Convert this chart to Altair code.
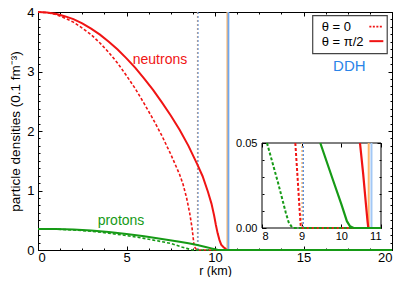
import altair as alt
import pandas as pd

FONT = "Liberation Sans"
RED = "#f01414"
GREEN = "#169a16"
BLUE_TXT = "#2a84e8"
BLUE_DASH = "#3f80e0"
BLUE_SOLID = "#6fa8f0"
ORANGE = "#ffb466"

# ---- data ----
r_n_solid = [0, 0.5, 1, 1.5, 2, 2.5, 3, 3.5, 4, 4.5, 5, 5.5, 6, 6.5, 7, 7.5, 8, 8.5, 9, 9.3, 9.6,
             9.8, 9.95, 10.05, 10.15, 10.25, 10.35, 10.47, 10.55, 10.62, 10.66, 10.68, 11, 20]
d_n_solid = [4.00, 3.99, 3.97, 3.93, 3.88, 3.81, 3.72, 3.62, 3.50, 3.37, 3.22, 3.06, 2.88, 2.69, 2.48,
             2.26, 2.02, 1.75, 1.44, 1.24, 0.98, 0.78, 0.58, 0.42, 0.28, 0.17, 0.09, 0.05, 0.032,
             0.014, 0.004, 0.0, 0.0, 0.0]

r_n_dash = [0, 0.5, 1, 1.5, 2, 2.5, 3, 3.5, 4, 4.5, 5, 5.5, 6, 6.5, 7, 7.5, 8, 8.2, 8.4, 8.57, 8.7,
            8.77, 8.81, 8.84, 8.91, 8.95, 8.98, 11, 20]
d_n_dash = [4.00, 3.99, 3.96, 3.90, 3.83, 3.73, 3.62, 3.48, 3.32, 3.14, 2.93, 2.71, 2.46, 2.20, 1.92,
            1.61, 1.27, 1.10, 0.87, 0.62, 0.38, 0.20, 0.09, 0.05, 0.025, 0.01, 0.0, 0.0, 0.0]

r_p_solid = [0, 1, 2, 3, 4, 5, 6, 7, 8, 8.5, 9, 9.47, 9.8, 10.0, 10.14, 10.22, 10.31, 11, 20]
d_p_solid = [0.355, 0.352, 0.343, 0.327, 0.303, 0.270, 0.230, 0.185, 0.138, 0.112, 0.083, 0.05,
             0.0275, 0.014, 0.004, 0.001, 0.0, 0.0, 0.0]

r_p_dash = [0, 1, 2, 3, 4, 5, 6, 7, 7.5, 8.0, 8.126, 8.4, 8.6, 8.67, 8.74, 8.8, 11, 20]
d_p_dash = [0.355, 0.350, 0.337, 0.315, 0.283, 0.243, 0.195, 0.140, 0.110, 0.062, 0.05, 0.027,
            0.009, 0.0035, 0.001, 0.0, 0.0, 0.0]

# DDH surface radii (theta = 0, theta = pi/2)
rule_theta = ["0", "pi/2"]
rule_r_blue = [9.04, 10.76]
rule_r_orange = [9.01, 10.69]

x_major = [0, 5, 10, 15, 20]
x_minor = [i * 1.25 for i in range(17)]
y_major = [0, 1, 2, 3, 4]
y_minor = [i * 0.125 for i in range(33)]
ix_major = [8, 9, 10, 11]
iy_major = [0, 0.05]
iy_minor = [i * 0.01 for i in range(6)]

W, H = 354, 238
IN_L, IN_R, IN_T, IN_B = 224, 343, 131, 216


def df(r, d):
    return pd.DataFrame({"r": r, "d": d})


main_x = alt.Scale(domain=[0, 20], nice=False, zero=False)
main_y = alt.Scale(domain=[0, 4], nice=False, zero=False)
ins_x = alt.Scale(domain=[8, 11], range=[IN_L, IN_R], nice=False, zero=False)
ins_y = alt.Scale(domain=[0, 0.05], range=[IN_B, IN_T], nice=False, zero=False)


def tick_axis(orient, offset, values, size):
    return alt.Axis(orient=orient, offset=offset, values=values, tickSize=size, tickColor="black",
                    tickWidth=1, labels=False, domain=False, grid=False, title=None)


# main axes
mx_lab = alt.Axis(orient="bottom", values=x_major, tickSize=0, domain=False, grid=False,
                  labelPadding=1, labelFont=FONT, labelFontSize=13, labelColor="black",
                  title="r (km)", titleFont=FONT, titleFontSize=12.5, titleFontWeight="normal",
                  titleColor="black", titleY=20.5, titleBaseline="middle")
my_lab = alt.Axis(orient="left", values=y_major, tickSize=0, domain=False, grid=False,
                  labelPadding=4, labelFont=FONT, labelFontSize=13, labelColor="black",
                  title="particle densities (0.1 fm⁻³)", titleFont=FONT, titleFontSize=13.5,
                  titleFontWeight="normal", titleColor="black", titleX=-23, titleBaseline="middle")
mx_bmaj = tick_axis("top", -H, x_major, 4)
mx_bmin = tick_axis("top", -H, x_minor, 2)
mx_tmaj = tick_axis("bottom", -H, x_major, 4)
mx_tmin = tick_axis("bottom", -H, x_minor, 2)
my_lmaj = tick_axis("right", -W, y_major, 4)
my_lmin = tick_axis("right", -W, y_minor, 2)
my_rmaj = tick_axis("left", -W, y_major, 4)
my_rmin = tick_axis("left", -W, y_minor, 2)

# inset axes
ix_lab = alt.Axis(orient="bottom", offset=IN_B - H, values=ix_major, tickSize=0, domain=False,
                  grid=False, labelPadding=2, labelFont=FONT, labelFontSize=11, labelColor="black",
                  title=None)
iy_lab = alt.Axis(orient="left", offset=-IN_L, values=iy_major, format=".2f", tickSize=0,
                  domain=False, grid=False, labelPadding=5, labelFont=FONT, labelFontSize=11,
                  labelColor="black", title=None)
ix_bmaj = tick_axis("top", -IN_B, ix_major, 4)
ix_tmaj = tick_axis("bottom", IN_T - H, ix_major, 4)
iy_lmaj = tick_axis("right", IN_L - W, iy_major, 4)
iy_lmin = tick_axis("right", IN_L - W, iy_minor, 2)
iy_rmaj = tick_axis("left", -IN_R, iy_major, 4)
iy_rmin = tick_axis("left", -IN_R, iy_minor, 2)

INSET_FILTER = "datum.r >= 8 && datum.r <= 11 && datum.d <= 0.0501"


def line(data, color, width, xax, yax, dashed=False, inset=False):
    ch = alt.Chart(data)
    if inset:
        ch = ch.transform_filter(INSET_FILTER)
    if dashed:
        mk = ch.mark_line(color=color, strokeWidth=width, strokeDash=[3, 2])
    else:
        mk = ch.mark_line(color=color, strokeWidth=width)
    return mk.encode(
        x=alt.X("r:Q", scale=ins_x if inset else main_x, axis=xax),
        y=alt.Y("d:Q", scale=ins_y if inset else main_y, axis=yax),
    )


rules_blue = pd.DataFrame({"theta": rule_theta, "r": rule_r_blue})
rules_orange = pd.DataFrame({"theta": rule_theta, "r": rule_r_orange})


def rules(data, theta, color, width, dashed, inset, xax=None, yax=None):
    ch = alt.Chart(data).transform_filter(alt.datum.theta == theta)
    kw = dict(color=color, strokeWidth=width)
    if dashed:
        kw["strokeDash"] = [2, 2]
    if inset:
        return ch.mark_rule(**kw).encode(
            x=alt.X("r:Q", scale=ins_x, axis=xax),
            y=alt.YDatum(0, scale=ins_y, axis=yax),
            y2=alt.Y2Datum(0.05),
        )
    return ch.mark_rule(**kw).encode(
        x=alt.X("r:Q", scale=main_x, axis=xax),
        y=alt.YDatum(0, scale=main_y, axis=yax),
        y2=alt.Y2Datum(4),
    )


def label(txt, xd, yd, color, size, xs=main_x, ys=main_y, align="center"):
    return alt.Chart(pd.DataFrame({"t": [txt]})).mark_text(
        font=FONT, fontSize=size, color=color, align=align, baseline="middle"
    ).encode(
        x=alt.XDatum(xd, scale=xs, axis=None),
        y=alt.YDatum(yd, scale=ys, axis=None),
        text="t:N",
    )


one = pd.DataFrame({"k": [0]})

legend_box = alt.Chart(one).mark_rect(fill="white", stroke="#444444", strokeWidth=1.2).encode(
    x=alt.XDatum(15.52, scale=main_x, axis=None), x2=alt.X2Datum(19.73),
    y=alt.YDatum(3.30, scale=main_y, axis=None), y2=alt.Y2Datum(3.94),
)
legend_dash = alt.Chart(one).mark_rule(color=RED, strokeWidth=1.6, strokeDash=[2, 1.5]).encode(
    x=alt.XDatum(18.72, scale=main_x, axis=None), x2=alt.X2Datum(19.51),
    y=alt.YDatum(3.755, scale=main_y, axis=None),
)
legend_solid = alt.Chart(one).mark_rule(color=RED, strokeWidth=2).encode(
    x=alt.XDatum(18.72, scale=main_x, axis=None), x2=alt.X2Datum(19.51),
    y=alt.YDatum(3.51, scale=main_y, axis=None),
)

inset_frame = alt.Chart(one).mark_rect(fillOpacity=0, stroke="black", strokeWidth=1).encode(
    x=alt.XDatum(8, scale=ins_x, axis=None), x2=alt.X2Datum(11),
    y=alt.YDatum(0, scale=ins_y, axis=None), y2=alt.Y2Datum(0.05),
)

layers = [
    # main panel
    rules(rules_orange, "0", ORANGE, 1.2, True, False, mx_tmin, my_rmin),
    rules(rules_orange, "pi/2", ORANGE, 1.5, False, False),
    rules(rules_blue, "0", BLUE_DASH, 1.0, True, False),
    rules(rules_blue, "pi/2", BLUE_SOLID, 1.8, False, False),
    line(df(r_n_dash, d_n_dash), RED, 1.6, mx_bmaj, my_lmaj, dashed=True),
    line(df(r_p_dash, d_p_dash), GREEN, 1.6, mx_bmin, my_lmin, dashed=True),
    line(df(r_n_solid, d_n_solid), RED, 2.0, mx_lab, my_lab),
    line(df(r_p_solid, d_p_solid), GREEN, 2.0, mx_tmaj, my_rmaj),
    label("neutrons", 6.89, 3.2, RED, 14),
    label("protons", 4.69, 0.49, GREEN, 14),
    label("DDH", 17.59, 3.09, BLUE_TXT, 15),
    legend_box,
    legend_dash,
    legend_solid,
    label("θ = 0", 16.03, 3.745, "black", 13, align="left"),
    label("θ = π/2", 16.03, 3.50, "black", 13, align="left"),
    # inset
    inset_frame,
    rules(rules_orange, "0", ORANGE, 1.5, True, True, yax=iy_rmin),
    rules(rules_orange, "pi/2", ORANGE, 2.0, False, True),
    rules(rules_blue, "0", BLUE_DASH, 1.2, True, True),
    rules(rules_blue, "pi/2", "#a3c8f5", 2.0, False, True),
    line(df(r_n_dash, d_n_dash), RED, 2.0, ix_bmaj, iy_lmaj, dashed=True, inset=True),
    line(df(r_p_dash, d_p_dash), GREEN, 2.0, ix_tmaj, iy_lmin, dashed=True, inset=True),
    line(df(r_n_solid, d_n_solid), RED, 2.2, ix_lab, iy_lab, inset=True),
    line(df(r_p_solid, d_p_solid), GREEN, 2.2, None, iy_rmaj, inset=True),
]

chart = alt.layer(*layers).resolve_scale(x="independent", y="independent").properties(
    width=W, height=H,
    autosize=alt.AutoSizeParams(type="none"),
    padding={"left": 30, "top": 4, "right": 7, "bottom": 27},
).configure_view(stroke="black", strokeWidth=1)

chart.save("out.html", embed_options={"renderer": "svg", "actions": False})
